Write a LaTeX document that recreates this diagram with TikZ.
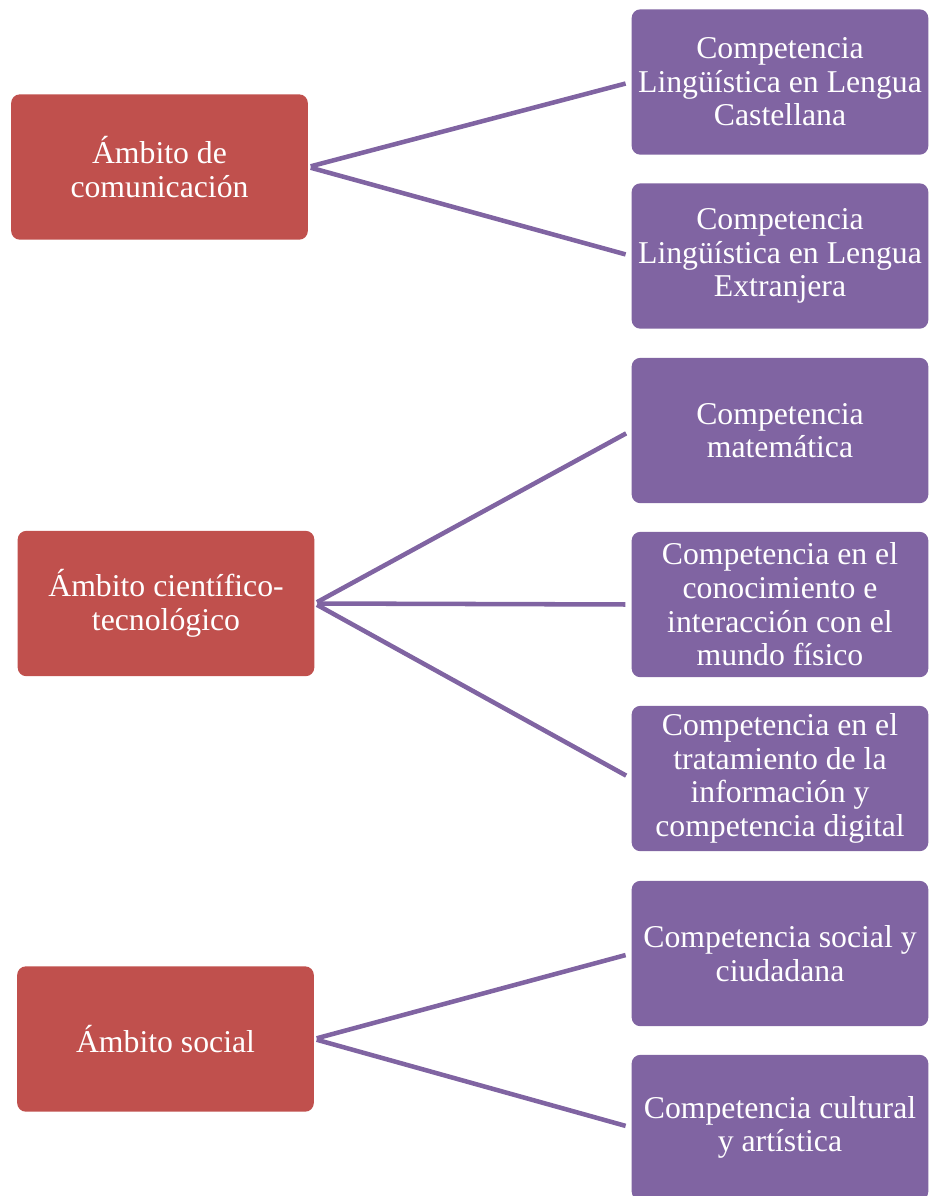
\documentclass[tikz,border=0pt]{standalone}
\usepackage{fontspec}
\setmainfont{Liberation Serif}
\definecolor{redbox}{HTML}{C0504D}
\definecolor{purplebox}{HTML}{8064A2}
\begin{document}
\begin{tikzpicture}[x=0.75pt,y=-0.75pt,
  basebox/.style={rounded corners=6.5pt, minimum width=222.5pt, minimum height=109pt,
    inner sep=0pt, align=center, text=white, font=\fontsize{23.8}{25.2}\selectfont},
  ambito/.style={basebox, fill=redbox},
  compet/.style={basebox, fill=purplebox},
  link/.style={draw=purplebox, line width=3.4pt, shorten <=2pt, shorten >=4.5pt}]
\useasboundingbox (0,0) rectangle (930,1196);
\clip (0,0) rectangle (930,1196);
\node[ambito] (r1) at (159.5,167) {Ámbito de\\comunicación};
\node[ambito] (r2) at (166,603.5) {Ámbito científico-\\tecnológico};
\node[ambito] (r3) at (165.5,1039) {Ámbito social};
\node[compet] (p1) at (780,82) {Competencia\\Lingüística en Lengua\\Castellana};
\node[compet] (p2) at (780,256) {Competencia\\Lingüística en Lengua\\Extranjera};
\node[compet] (p3) at (780,430.5) {Competencia\\matemática};
\node[compet] (p4) at (780,604.5) {Competencia en el\\conocimiento e\\interacción con el\\mundo físico};
\node[compet] (p5) at (780,778.5) {Competencia en el\\tratamiento de la\\información y\\competencia digital};
\node[compet] (p6) at (780,953.5) {Competencia social y\\ciudadana};
\node[compet] (p7) at (780,1127.5) {Competencia cultural\\y artística};
\draw[link] (r1.east) -- (p1.west);
\draw[link] (r1.east) -- (p2.west);
\draw[link] (r2.east) -- (p3.west);
\draw[link] (r2.east) -- (p4.west);
\draw[link] (r2.east) -- (p5.west);
\draw[link] (r3.east) -- (p6.west);
\draw[link] (r3.east) -- (p7.west);
\end{tikzpicture}
\end{document}
